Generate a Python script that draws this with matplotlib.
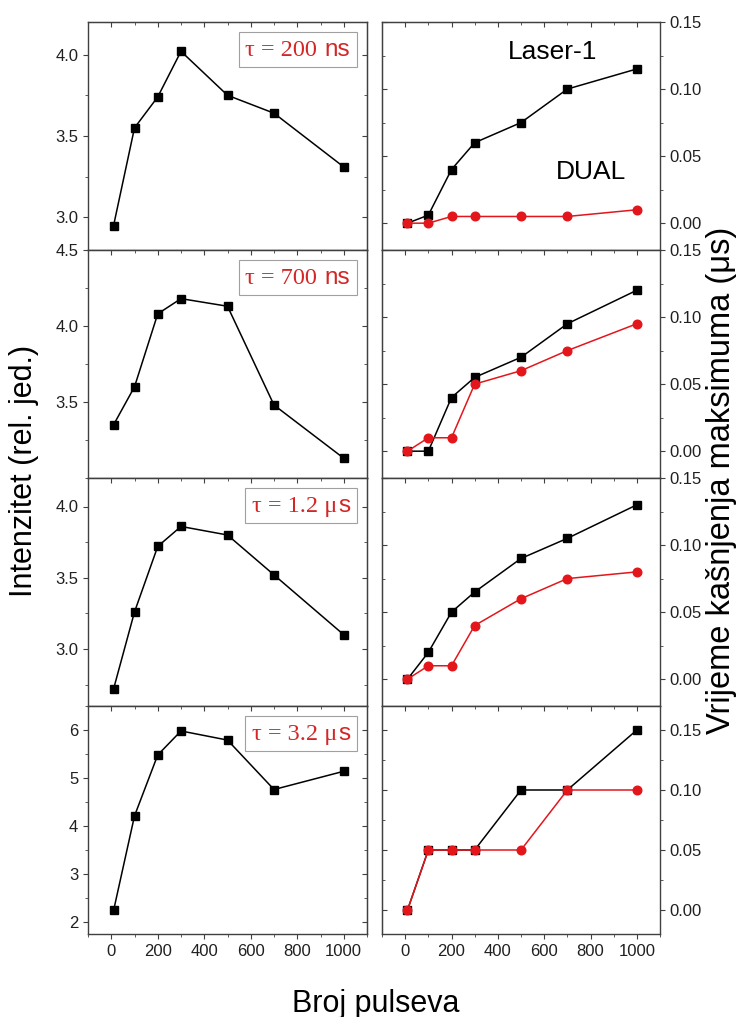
import matplotlib.pyplot as plt
from matplotlib.ticker import MultipleLocator, FixedLocator, FormatStrFormatter
from matplotlib.offsetbox import AnchoredOffsetbox, HPacker, TextArea
from matplotlib.font_manager import FontProperties

plt.rcParams['font.family'] = ['Liberation Sans', 'DejaVu Sans']

pulses = [10, 100, 200, 300, 500, 700, 1000]

# intensity (left column)
int_200ns = [2.95, 3.55, 3.74, 4.02, 3.75, 3.64, 3.31]
int_700ns = [3.35, 3.60, 4.08, 4.18, 4.13, 3.48, 3.13]
int_1200ns = [2.72, 3.26, 3.72, 3.86, 3.80, 3.52, 3.10]
int_3200ns = [2.24, 4.21, 5.48, 5.98, 5.79, 4.76, 5.14]

# delay of maximum (right column)
laser1_200ns = [0.0, 0.006, 0.04, 0.06, 0.075, 0.10, 0.115]
dual_200ns = [0.0, 0.0, 0.005, 0.005, 0.005, 0.005, 0.01]
laser1_700ns = [0.0, 0.0, 0.04, 0.055, 0.07, 0.095, 0.12]
dual_700ns = [0.0, 0.01, 0.01, 0.05, 0.06, 0.075, 0.095]
laser1_1200ns = [0.0, 0.02, 0.05, 0.065, 0.09, 0.105, 0.13]
dual_1200ns = [0.0, 0.01, 0.01, 0.04, 0.06, 0.075, 0.08]
laser1_3200ns = [0.0, 0.05, 0.05, 0.05, 0.10, 0.10, 0.15]
dual_3200ns = [0.0, 0.05, 0.05, 0.05, 0.05, 0.10, 0.10]

tau_values = ['200', '700', '1.2', '3.2']
tau_prefix = ['', '', '\u03bc', '\u03bc']
tau_suffix = ['ns', 'ns', 's', 's']

intensity = [int_200ns, int_700ns, int_1200ns, int_3200ns]
laser1 = [laser1_200ns, laser1_700ns, laser1_1200ns, laser1_3200ns]
dual = [dual_200ns, dual_700ns, dual_1200ns, dual_3200ns]

left_ylims = [(2.8, 4.2), (3.0, 4.5), (2.6, 4.2), (1.75, 6.5)]
left_ticks = [[3.0, 3.5, 4.0], [3.5, 4.0, 4.5], [3.0, 3.5, 4.0], [2, 3, 4, 5, 6]]
left_minor = [0.25, 0.25, 0.25, 0.5]
left_fmt = ['%.1f', '%.1f', '%.1f', '%d']
right_ylims = [(-0.02, 0.15), (-0.02, 0.15), (-0.02, 0.15), (-0.02, 0.17)]

red = '#e3161c'
tau_red = '#d42626'
spine_c = '#404040'

serif = FontProperties(family='Liberation Serif', size=17.5)
sans = FontProperties(family='Liberation Sans', size=17.5)

fig = plt.figure(figsize=(7.52, 10.17), dpi=100)
W, H = 752, 1017
panel_h = 228
top0 = 22


def style(ax, ymain, yfmt):
    for s in ax.spines.values():
        s.set_color(spine_c)
        s.set_linewidth(1.0)
    ax.set_xlim(-100, 1100)
    ax.xaxis.set_major_locator(MultipleLocator(200))
    ax.xaxis.set_minor_locator(MultipleLocator(100))
    ax.tick_params(which='both', direction='out', color=spine_c,
                   labelsize=12, labelcolor='#202020')
    ax.tick_params(which='major', length=3.5)
    ax.tick_params(which='minor', length=2.2)
    ax.yaxis.set_major_formatter(FormatStrFormatter(yfmt))
    # mirrored ticks pointing inwards
    top = ax.secondary_xaxis('top')
    top.xaxis.set_major_locator(MultipleLocator(200))
    top.xaxis.set_minor_locator(MultipleLocator(100))
    top.tick_params(which='both', direction='in', labeltop=False, color=spine_c)
    top.tick_params(which='major', length=3.5)
    top.tick_params(which='minor', length=2.2)
    top.spines['top'].set_color(spine_c)
    other = 'left' if ymain == 'right' else 'right'
    sec = ax.secondary_yaxis(other)
    sec.yaxis.set_major_locator(ax.yaxis.get_major_locator())
    sec.yaxis.set_minor_locator(ax.yaxis.get_minor_locator())
    sec.tick_params(which='both', direction='in', labelleft=False,
                    labelright=False, color=spine_c)
    sec.tick_params(which='major', length=3.5)
    sec.tick_params(which='minor', length=2.2)
    sec.spines[other].set_color(spine_c)


for i in range(4):
    bottom = 1 - (top0 + panel_h * (i + 1)) / H
    h = panel_h / H

    # left: intensity
    ax = fig.add_axes([88 / W, bottom, 279 / W, h])
    ax.plot(pulses, intensity[i], color='black', lw=1.1, marker='s',
            ms=5.8, mfc='black', mec='black')
    ax.set_ylim(*left_ylims[i])
    ax.yaxis.set_major_locator(FixedLocator(left_ticks[i]))
    ax.yaxis.set_minor_locator(MultipleLocator(left_minor[i]))
    style(ax, 'left', left_fmt[i])
    if i < 3:
        ax.tick_params(labelbottom=False)

    parts = [TextArea('\u03c4 = ' + tau_values[i] + ' ' + tau_prefix[i],
                      textprops=dict(color=tau_red, fontproperties=serif)),
             TextArea(tau_suffix[i],
                      textprops=dict(color=tau_red, fontproperties=sans))]
    box = HPacker(children=parts, pad=0, sep=1)
    anch = AnchoredOffsetbox(loc='upper right', child=box, pad=0.45,
                             borderpad=0.75, frameon=True)
    anch.patch.set_edgecolor('#a0a0a0')
    anch.patch.set_linewidth(0.8)
    ax.add_artist(anch)

    # right: delay of maximum
    ax2 = fig.add_axes([382 / W, bottom, 278 / W, h])
    ax2.plot(pulses, laser1[i], color='black', lw=1.1, marker='s',
             ms=5.8, mfc='black', mec='black')
    ax2.plot(pulses, dual[i], color=red, lw=1.1, marker='o',
             ms=6.2, mfc=red, mec=red)
    ax2.set_ylim(*right_ylims[i])
    ax2.yaxis.tick_right()
    ax2.yaxis.set_major_locator(MultipleLocator(0.05))
    ax2.yaxis.set_minor_locator(MultipleLocator(0.025))
    style(ax2, 'right', '%.2f')
    if i < 3:
        ax2.tick_params(labelbottom=False)
    if i == 0:
        ax2.text(638, 0.128, 'Laser-1', fontsize=19, ha='center', va='center')
        ax2.text(802, 0.038, 'DUAL', fontsize=19, ha='center', va='center')

fig.text(0.032, 0.537, 'Intenzitet (rel. jed.)', rotation=90,
         fontsize=22, ha='center', va='center')
fig.text(0.960, 0.528, 'Vrijeme ka\u0161njenja maksimuma (\u03bcs)',
         rotation=90, fontsize=23.5, ha='center', va='center')
fig.text(0.5, 1 - 1012 / H, 'Broj pulseva', fontsize=22,
         ha='center', va='baseline')

fig.savefig('out.png', dpi=100)
